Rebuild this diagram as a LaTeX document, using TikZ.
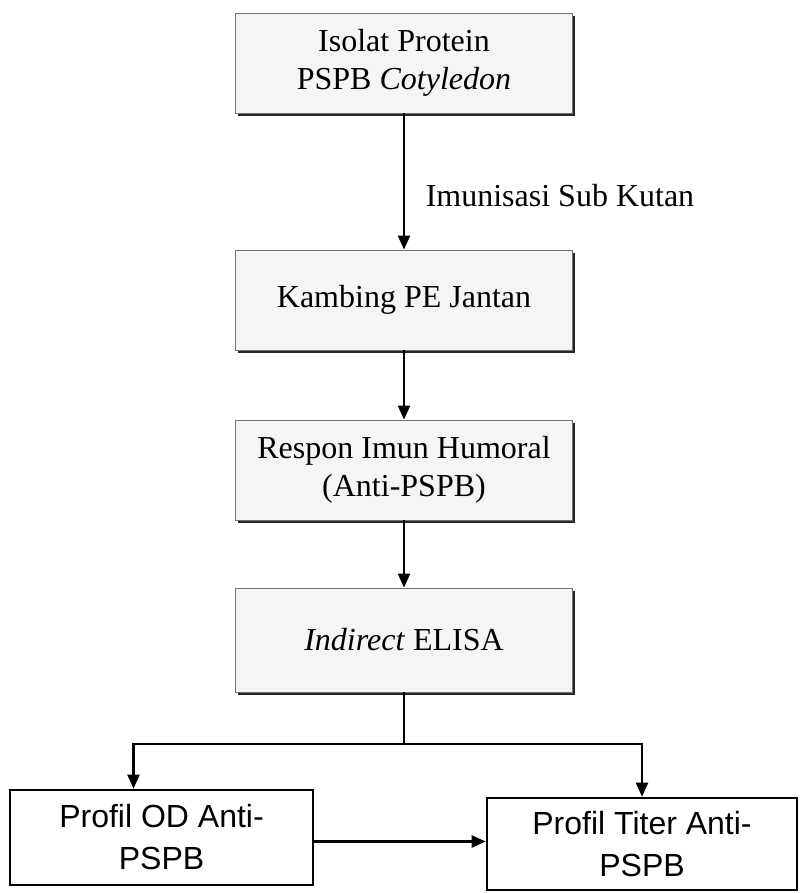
\documentclass[tikz,border=0pt]{standalone}
\usepackage{fontspec}
\setmainfont{Liberation Serif}
\newfontfamily\arialfont{Liberation Sans}
\usepackage{tikz}
\usetikzlibrary{arrows.meta, positioning, calc, shadows}

\begin{document}
\begin{tikzpicture}[
  x=0.5pt, y=-0.5pt,
  every node/.style={font=\fontsize{16}{19}\selectfont, align=center},
  stepbox/.style={draw=black!55, line width=0.4pt, fill=black!4,
                  minimum width=168.5pt, minimum height=50pt, inner sep=2pt,
                  drop shadow={shadow xshift=1pt, shadow yshift=-1.6pt,
                               fill=black!85, opacity=1}},
  outbox/.style={draw, line width=1.3pt, fill=white, inner sep=2pt,
                 font=\arialfont\fontsize{16}{21}\selectfont},
  arr/.style={-{Triangle[length=7pt, width=6pt]}, line width=1.1pt},
  link/.style={line width=1.1pt},
]
  \useasboundingbox (0,0) rectangle (800,893);

  \node[stepbox] (isolat) at (404, 63) {Isolat Protein\\PSPB \textit{Cotyledon}};
  \node[stepbox] (kambing) at (404, 300) {Kambing PE Jantan};
  \node[stepbox] (respon) at (404, 470) {Respon Imun Humoral\\(Anti-PSPB)};
  \node[stepbox, minimum height=52pt] (elisa) at (404, 640) {\textit{Indirect} ELISA};

  \node[outbox, minimum width=151.5pt, minimum height=47.5pt] (od) at (161.5, 837.5)
       {Profil OD Anti-\\PSPB};
  \node[outbox, minimum width=155pt, minimum height=46pt] (titer) at (642, 844)
       {Profil Titer Anti-\\PSPB};

  \coordinate (fork) at (404, 744);

  \draw[arr] (isolat) -- (kambing)
       node[pos=0.6, right=7pt] {Imunisasi Sub Kutan};
  \draw[arr] (kambing) -- (respon);
  \draw[arr] (respon) -- (elisa);
  \draw[link] (elisa) -- (fork);
  \draw[arr] (fork) -| ([xshift=-14pt]od.north);
  \draw[arr] (fork) -| (titer.north);
  \draw[arr] ([yshift=-2pt]od.east) -- ([yshift=-2pt]od.east -| titer.west);
\end{tikzpicture}
\end{document}
